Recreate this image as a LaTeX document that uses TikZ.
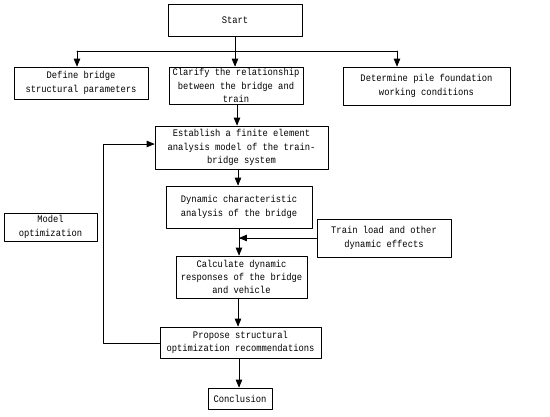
\documentclass[tikz,border=0pt]{standalone}
\usepackage{fontspec}
\setmainfont[FakeStretch=0.88]{Liberation Mono}
\usetikzlibrary{arrows}
\tikzset{
  blk/.style={draw,line width=0.9pt,align=center,inner sep=1pt,
    font=\fontsize{10}{13.4}\selectfont},
  lnk/.style={line width=0.8pt}
}
\begin{document}
\begin{tikzpicture}[line cap=round,line join=round,>=triangle 45,x=1pt,y=-1pt]
	\useasboundingbox (0,0) rectangle (550,416);
	% boxes
	\node[blk,minimum width=134,minimum height=32] (start) at (235,20) {Start};
	\node[blk,minimum width=134,minimum height=32] (define) at (81,83) {Define bridge\\structural parameters};
	\node[blk,minimum width=134,minimum height=37] (clarify) at (236,85.5) {Clarify the relationship\\between the bridge and\\train};
	\node[blk,minimum width=167,minimum height=38] (determine) at (426.5,86) {Determine pile foundation\\working conditions};
	\node[blk,minimum width=173,minimum height=43] (establish) at (241.5,147.5) {Establish a finite element\\analysis model of the train-\\bridge system};
	\node[blk,minimum width=146,minimum height=42] (dynamic) at (239,207) {Dynamic characteristic\\analysis of the bridge};
	\node[blk,minimum width=93,minimum height=28] (model) at (50.5,227) {Model\\optimization};
	\node[blk,minimum width=134,minimum height=38] (train) at (384,238) {Train load and other\\dynamic effects};
	\node[blk,minimum width=131,minimum height=42] (calc) at (241.5,277) {Calculate dynamic\\responses of the bridge\\and vehicle};
	\node[blk,minimum width=161,minimum height=31] (propose) at (240.5,342.5) {Propose structural\\optimization recommendations};
	\node[blk,minimum width=64,minimum height=21] (concl) at (240,398.5) {Conclusion};
	% connectors
	\coordinate (split) at (235,51);
	\coordinate (splitL) at (77,51);
	\coordinate (splitR) at (397,51);
	\coordinate (join) at (239,238);
	\coordinate (back) at (103,343);
	\draw[lnk] (start) -- (split);
	\draw[lnk] (splitL) -- (splitR);
	\draw[lnk,->] (splitL) -- (splitL |- define.north);
	\draw[lnk,->] (split) -- (split |- clarify.north);
	\draw[lnk,->] (splitR) -- (splitR |- determine.north);
	\draw[lnk,->] (clarify.south -| 237,0) -- (establish.north -| 237,0);
	\draw[lnk,->] (establish.south -| 238,0) -- (dynamic.north -| 238,0);
	\draw[lnk,->] (dynamic.south -| join) -- (calc.north -| join);
	\draw[lnk,->] (train.west |- join) -- (join);
	\draw[lnk,->] (calc.south -| 238,0) -- (propose.north -| 238,0);
	\draw[lnk,->] (propose.south -| 239,0) -- (concl.north -| 239,0);
	\draw[lnk,->] (propose.west |- back) -- (back) -- (back |- 0,144) -- (establish.west |- 0,144);
\end{tikzpicture}
\end{document}
